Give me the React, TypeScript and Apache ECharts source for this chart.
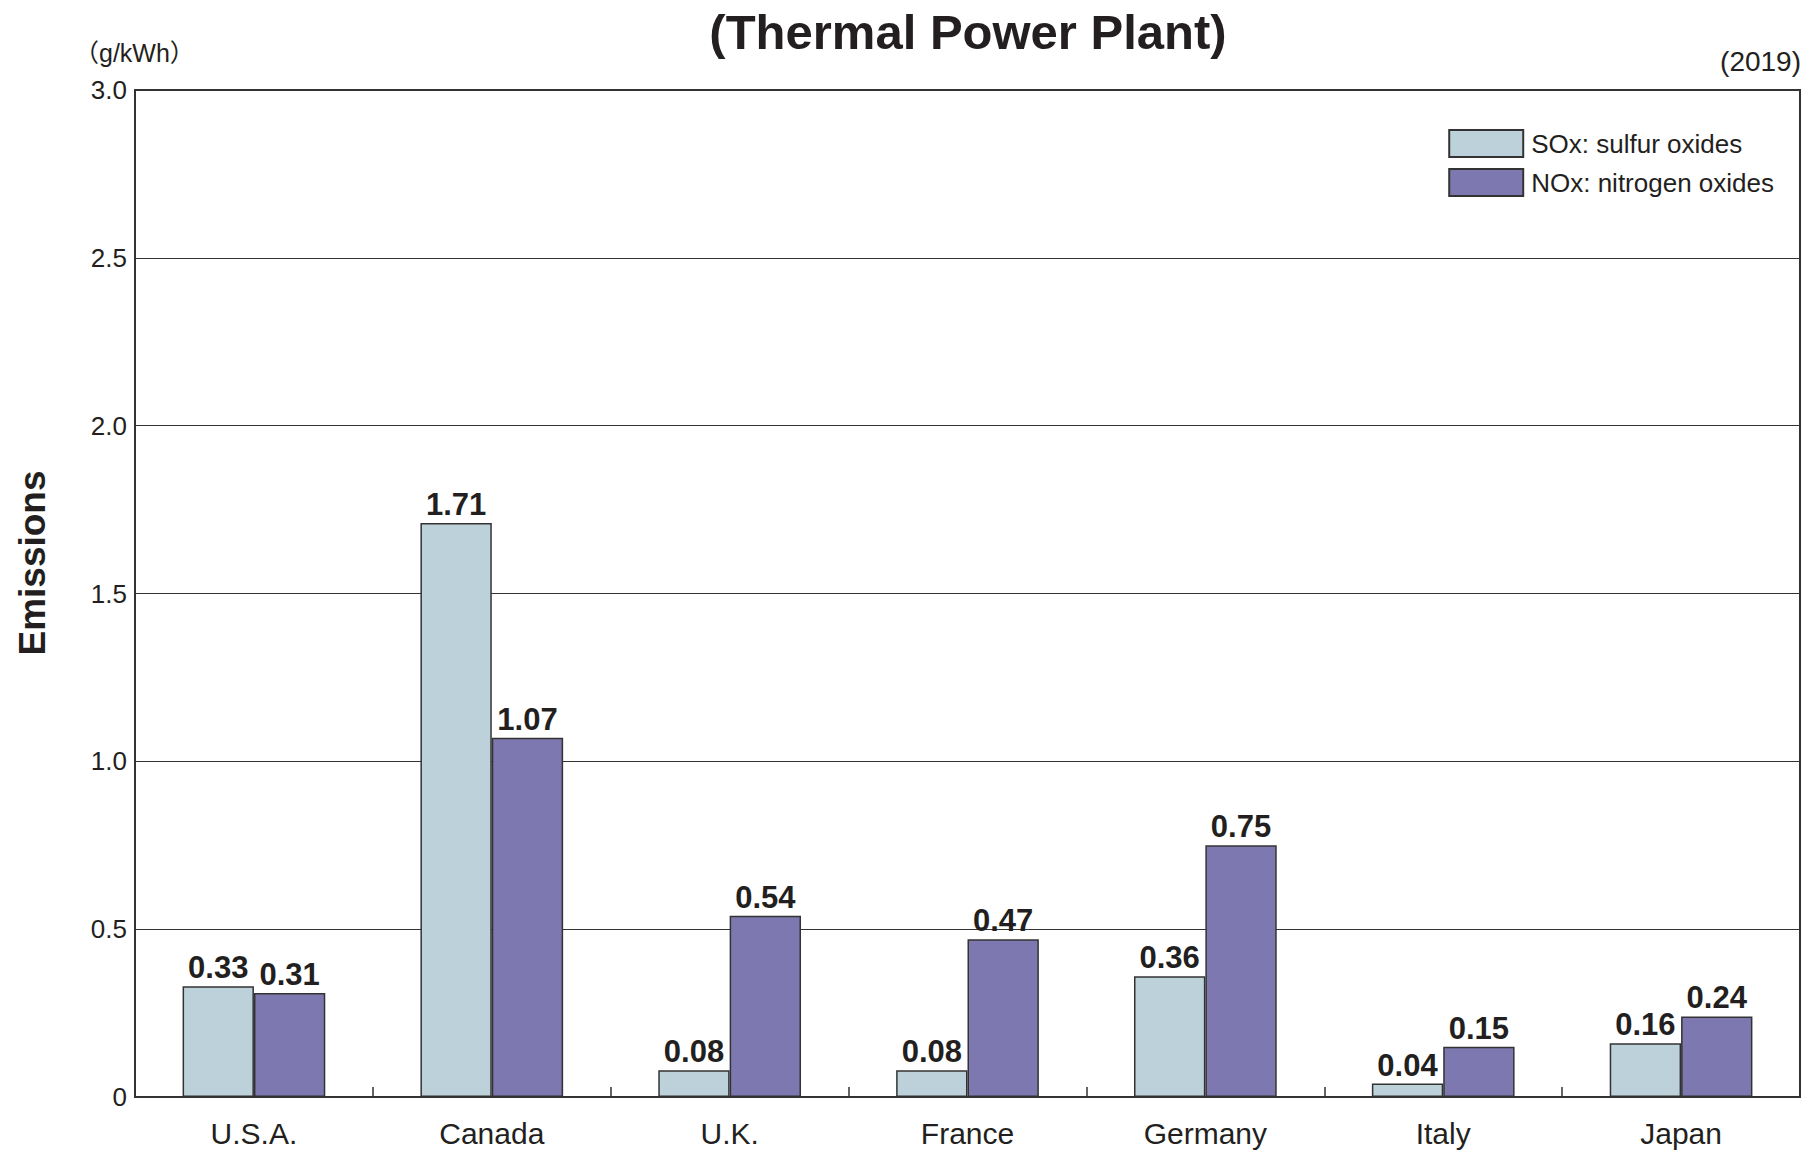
import React, { useEffect, useRef } from "react";
import * as echarts from "echarts";

const categories = ["U.S.A.", "Canada", "U.K.", "France", "Germany", "Italy", "Japan"];
const soxValues = [0.33, 1.71, 0.08, 0.08, 0.36, 0.04, 0.16];
const noxValues = [0.31, 1.07, 0.54, 0.47, 0.75, 0.15, 0.24];
const seriesNames = ["SOx: sulfur oxides", "NOx: nitrogen oxides"];

const FONT = "'Liberation Sans', Arial, Helvetica, 'Noto Sans CJK JP', sans-serif";

export default function App() {
  const ref = useRef<HTMLDivElement>(null);
  useEffect(() => {
    document.body.style.margin = "0";
    if (!ref.current) return;
    const chart = echarts.init(ref.current, null, { renderer: "svg" });
    const labelStyle = {
      show: true,
      position: "top" as const,
      distance: 3,
      fontFamily: FONT,
      fontWeight: "bold" as const,
      fontSize: 31,
      color: "#231f20",
      formatter: (p: any) => p.value.toFixed(2),
    };
    chart.setOption({
      animation: false,
      backgroundColor: "#ffffff",
      textStyle: { fontFamily: FONT },
      grid: {
        left: 135,
        right: 12,
        top: 90,
        bottom: 55,
        show: true,
        borderColor: "#333",
        borderWidth: 2,
        containLabel: false,
      },
      legend: {
        orient: "vertical",
        right: 33,
        top: 124,
        icon: "rect",
        itemWidth: 74,
        itemHeight: 27,
        itemGap: 10,
        textStyle: { fontSize: 26, color: "#231f20", fontFamily: FONT, padding: [0, 0, 0, 3] },
        data: seriesNames,
      },
      xAxis: {
        type: "category",
        data: categories,
        axisLine: { lineStyle: { color: "#333", width: 2 } },
        axisTick: { show: true, inside: true, length: 10, lineStyle: { color: "#333", width: 1.5 } },
        axisLabel: { fontSize: 30, color: "#231f20", margin: 21, fontFamily: FONT },
      },
      yAxis: {
        type: "value",
        min: 0,
        max: 3,
        interval: 0.5,
        axisLine: { show: true, lineStyle: { color: "#333", width: 2 } },
        axisTick: { show: false },
        splitLine: { lineStyle: { color: "#333", width: 1 } },
        axisLabel: {
          fontSize: 26,
          color: "#231f20",
          margin: 8,
          fontFamily: FONT,
          formatter: (v: number) => (v === 0 ? "0" : v.toFixed(1)),
        },
      },
      graphic: [
        {
          type: "text",
          x: 968,
          y: 32,
          style: {
            text: "(Thermal Power Plant)",
            fontSize: 49,
            fontWeight: "bold",
            fontFamily: FONT,
            fill: "#231f20",
            textAlign: "center",
            textVerticalAlign: "middle",
          },
        },
        {
          type: "text",
          x: 74,
          y: 53,
          style: {
            text: "（g/kWh）",
            fontSize: 25,
            fontFamily: FONT,
            fill: "#231f20",
            textAlign: "left",
            textVerticalAlign: "middle",
          },
        },
        {
          type: "text",
          x: 1801,
          y: 61,
          style: {
            text: "(2019)",
            fontSize: 28,
            fontFamily: FONT,
            fill: "#231f20",
            textAlign: "right",
            textVerticalAlign: "middle",
          },
        },
        {
          type: "text",
          x: 32,
          y: 563,
          rotation: Math.PI / 2,
          style: {
            text: "Emissions",
            fontSize: 37,
            fontWeight: "bold",
            fontFamily: FONT,
            fill: "#231f20",
            textAlign: "center",
            textVerticalAlign: "middle",
          },
        },
      ],
      series: [
        {
          name: seriesNames[0],
          type: "bar",
          data: soxValues,
          barGap: "0%",
          barCategoryGap: "40%",
          itemStyle: { color: "#bdd1da", borderColor: "#333", borderWidth: 1.5 },
          label: labelStyle,
        },
        {
          name: seriesNames[1],
          type: "bar",
          data: noxValues,
          barGap: "0%",
          barCategoryGap: "40%",
          itemStyle: { color: "#7d78b0", borderColor: "#333", borderWidth: 1.5 },
          label: labelStyle,
        },
      ],
    });
    return () => chart.dispose();
  }, []);
  return <div ref={ref} style={{ width: 1812, height: 1152 }} />;
}
